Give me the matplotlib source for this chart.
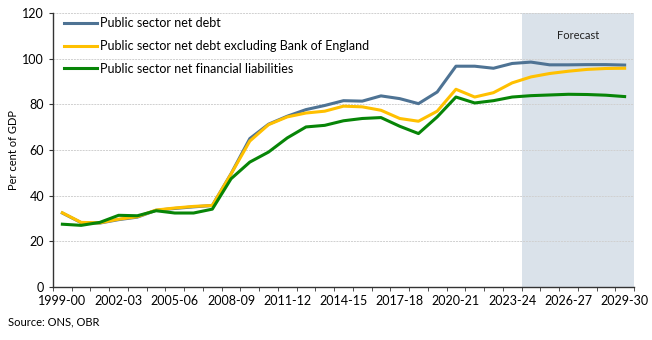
import matplotlib.pyplot as plt
import numpy as np

plt.rcParams['font.family'] = ['Lato', 'DejaVu Sans']

years = ["1999-00", "2000-01", "2001-02", "2002-03", "2003-04", "2004-05",
         "2005-06", "2006-07", "2007-08", "2008-09", "2009-10", "2010-11",
         "2011-12", "2012-13", "2013-14", "2014-15", "2015-16", "2016-17",
         "2017-18", "2018-19", "2019-20", "2020-21", "2021-22", "2022-23",
         "2023-24", "2024-25", "2025-26", "2026-27", "2027-28", "2028-29",
         "2029-30"]

psnd = [32.4, 28.2, 28.0, 29.5, 30.6, 33.6, 34.4, 35.1, 35.7, 49.6,
        65.0, 71.3, 74.8, 77.7, 79.5, 81.6, 81.4, 83.7, 82.5, 80.3,
        85.4, 96.7, 96.7, 95.8, 97.9, 98.5, 97.3, 97.3, 97.4, 97.4,
        97.2]
psnd_ex_boe = [32.5, 28.3, 28.1, 29.7, 30.8, 33.7, 34.6, 35.3, 35.7, 49.5,
               63.9, 71.1, 74.5, 76.2, 77.0, 79.2, 78.9, 77.4, 73.8, 72.6,
               77.0, 86.6, 83.2, 85.1, 89.4, 92.0, 93.5, 94.5, 95.3, 95.7,
               95.8]
psnfl = [27.5, 27.0, 28.3, 31.4, 31.2, 33.4, 32.4, 32.4, 34.1, 47.4,
         54.7, 59.1, 65.3, 70.1, 70.8, 72.8, 73.8, 74.2, 70.4, 67.2,
         74.5, 83.2, 80.6, 81.6, 83.2, 83.8, 84.1, 84.4, 84.3, 84.0,
         83.4]

first_forecast = "2024-25"

x = np.arange(len(years))
fc = years.index(first_forecast)

fig = plt.figure(figsize=(6.52, 3.40), dpi=100)
ax = fig.add_axes([53 / 652, 1 - 287 / 340, 581 / 652, 274 / 340])

ax.axvspan(fc - 0.5, len(years) - 0.5, color='#dae2ea', lw=0, zorder=0)
ax.text((fc - 0.5 + len(years) - 0.5) / 2, 110, "Forecast", ha='center',
        va='center', fontsize=8, color='#222222')

ax.plot(x, psnd, color='#4e7394', lw=2.2, label='Public sector net debt', zorder=3)
ax.plot(x, psnd_ex_boe, color='#ffc000', lw=2.2,
        label='Public sector net debt excluding Bank of England', zorder=4)
ax.plot(x, psnfl, color='#078507', lw=2.2,
        label='Public sector net financial liabilities', zorder=5)

ax.set_xlim(-0.5, len(years) - 0.5)
ax.set_ylim(0, 120)
ax.set_yticks(range(0, 121, 20))
ax.yaxis.grid(True, color='#d0d0d0', lw=0.7, ls=(0, (2, 1)))
ax.set_axisbelow(True)

# labels on every third year, tick marks on category boundaries
ax.set_xticks(x[::3])
ax.set_xticklabels(years[::3])
ax.set_xticks(np.arange(-0.5, len(years)), minor=True)
ax.tick_params(axis='x', which='major', length=0, pad=6, labelsize=9)
ax.tick_params(axis='x', which='minor', length=3, color='#333333')
ax.tick_params(axis='y', length=3, color='#333333', labelsize=9)

for s in ['top', 'right']:
    ax.spines[s].set_visible(False)
for s in ['left', 'bottom']:
    ax.spines[s].set_color('#333333')
    ax.spines[s].set_linewidth(1)

ax.set_ylabel('Per cent of GDP', fontsize=8, labelpad=2)

ax.legend(loc='upper left', bbox_to_anchor=(0.0, 1.025), frameon=False,
          fontsize=9, handlelength=2.6, handletextpad=0.3, labelspacing=0.85)

fig.text(8 / 652, 1 - 322 / 340, 'Source: ONS, OBR', fontsize=8, va='center')

fig.savefig('out.png', dpi=100)
